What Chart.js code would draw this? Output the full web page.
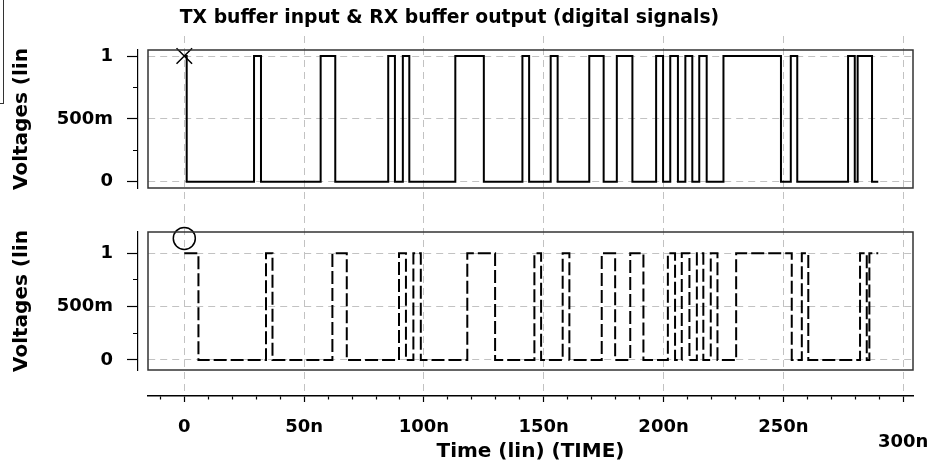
<!DOCTYPE html>
<html lang="en">
<head>
<meta charset="utf-8">
<title>TX buffer input &amp; RX buffer output</title>
<script src="https://cdn.jsdelivr.net/npm/chart.js"></script>
<style>
  body { margin: 0; background: #fff; }
  #wrap { position: relative; width: 927px; height: 471px; overflow: hidden; }
  #wrap canvas { position: absolute; left: 0; }
  #title { position: absolute; left: 0; top: 6px; width: 899px; text-align: center;
           font: bold 18.8px/22px "DejaVu Sans"; color: #000; }
  #legendBox { position: absolute; left: -10px; top: -1px; width: 12px; height: 103px; border: 1px solid #333; }
</style>
</head>
<body>
<div id="wrap">
  <canvas id="axisChart" width="927" height="471" style="top:0"></canvas>
  <canvas id="txChart" width="927" height="192" style="top:0"></canvas>
  <canvas id="rxChart" width="927" height="172" style="top:200px"></canvas>
  <div id="legendBox"></div>
  <div id="title">TX buffer input &amp; RX buffer output (digital signals)</div>
</div>
<script>
// transition times (ns) and the level after each transition
const txTime  = [0, 1.0, 29.1, 32.0, 56.9, 63.0, 85.1, 87.9, 91.2, 93.9, 113.1, 125.0, 141.1, 143.9,
                 152.9, 155.8, 169.0, 175.0, 180.5, 187.0, 196.9, 199.8, 202.8, 206.0, 209.1, 212.0,
                 214.9, 218.0, 225.0, 249.0, 253.1, 255.8, 277.0, 279.8, 281.0, 287.0, 289.6];
const txLevel = [1, 0, 1, 0, 1, 0, 1, 0, 1, 0, 1, 0, 1, 0,
                 1, 0, 1, 0, 1, 0, 1, 0, 1, 0, 1, 0,
                 1, 0, 1, 0, 1, 0, 1, 0, 1, 0, 0];

const rxTime  = [0, 5.9, 34.1, 36.8, 61.8, 67.8, 89.6, 92.5, 95.6, 98.7, 118.1, 129.7, 146.1, 148.9,
                 157.9, 160.7, 174.2, 179.8, 186.1, 191.6, 201.8, 204.8, 207.6, 210.8, 213.9, 216.6,
                 219.7, 222.5, 230.3, 253.5, 257.7, 260.4, 282.0, 284.8, 285.9, 289.6];
const rxLevel = [1, 0, 1, 0, 1, 0, 1, 0, 1, 0, 1, 0, 1, 0,
                 1, 0, 1, 0, 1, 0, 1, 0, 1, 0, 1, 0,
                 1, 0, 1, 0, 1, 0, 1, 0, 1, 1];

// cursor markers
const markerTime = [0];
const txMarkerLevel = [1];
const rxMarkerLevel = [1.14];

// axes
const xMin = -15.15, xMax = 304.1;
const xMajor = [0, 50, 100, 150, 200, 250, 300];
const xMajorLabels = ['0', '50n', '100n', '150n', '200n', '250n', '300n'];
const yMajor = [0, 0.5, 1];
const yMajorLabels = ['0', '500m', '1'];
const yMinor = [0.25, 0.75];

const gridGrey = '#c2c2c2';
const clear = 'rgba(0,0,0,0)';

Chart.defaults.font.family = '"DejaVu Sans"';
Chart.defaults.font.weight = 'bold';
Chart.defaults.color = '#000';
Chart.defaults.animation = false;

let xTicks = [];
for (let v = -10; v <= 300; v += 10) xTicks.push(v);
let yTicks = yMajor.concat(yMinor).sort((a, b) => a - b);

function isMajor(list, ctx) {
    return ctx.tick !== undefined && list.includes(ctx.tick.value);
}

const framePlugin = {
    id: 'frame',
    afterDatasetsDraw(chart) {
        const {ctx, chartArea: a} = chart;
        ctx.save();
        ctx.strokeStyle = '#333';
        ctx.lineWidth = 1.5;
        ctx.strokeRect(a.left, a.top, a.right - a.left, a.bottom - a.top);
        ctx.restore();
    }
};

function panelScales(min, max) {
    return {
        x: { type: 'linear', min: xMin, max: xMax, display: false },
        y: {
            position: 'left', weight: 10, min: min, max: max,
            afterBuildTicks: s => { s.ticks = yTicks.map(v => ({value: v})); },
            afterFit: s => { s.width = 138; s.paddingTop = 0; s.paddingBottom = 0; },
            ticks: {
                padding: 14,
                font: {size: 18, weight: 'bold'},
                callback: v => { const i = yMajor.indexOf(v); return i < 0 ? '' : yMajorLabels[i]; }
            },
            grid: {
                color: ctx => isMajor(yMajor, ctx) ? gridGrey : clear,
                tickColor: '#000',
                tickLength: 11,
                tickWidth: 1.2,
                tickBorderDash: ctx => isMajor(yMajor, ctx) ? [] : [0, 6, 5, 20]
            },
            border: { display: true, color: '#000', width: 1.2, dash: [7, 5] },
            title: {
                display: true, text: 'Voltages (lin',
                font: {size: 20, weight: 'bold'},
                padding: {top: 10, bottom: 0}
            }
        },
        gap: {
            axis: 'y', position: 'left', weight: 0,
            grid: {display: false}, ticks: {display: false}, border: {display: false},
            afterFit: s => { s.width = 10; s.paddingTop = 0; s.paddingBottom = 0; }
        }
    };
}

function panel(id, times, levels, dash, markerStyle, markerLevels, min, max, padTop, padBottom) {
    return new Chart(document.getElementById(id), {
        type: 'line',
        data: {
            datasets: [{
                data: times.map((t, i) => ({x: t, y: levels[i]})),
                borderColor: '#000',
                borderWidth: 2,
                borderDash: dash,
                stepped: true,
                pointRadius: 0,
                fill: false
            }, {
                data: markerTime.map((t, i) => ({x: t, y: markerLevels[i]})),
                showLine: false,
                pointStyle: markerStyle,
                pointRadius: 11,
                pointBorderWidth: 1.5,
                pointBorderColor: '#000',
                pointBackgroundColor: clear,
                clip: false
            }]
        },
        options: {
            responsive: false,
            layout: { autoPadding: false, padding: {left: 0, right: 14, top: padTop, bottom: padBottom} },
            plugins: { legend: {display: false}, tooltip: {enabled: false} },
            scales: panelScales(min, max)
        },
        plugins: [framePlugin]
    });
}

panel('txChart', txTime, txLevel, [], 'crossRot', txMarkerLevel, -0.05, 1.048, 50, 4);
panel('rxChart', rxTime, rxLevel, [13, 4], 'circle', rxMarkerLevel, -0.094, 1.2, 32, 2);

// shared time axis with full-height grid
new Chart(document.getElementById('axisChart'), {
    type: 'line',
    data: { datasets: [] },
    options: {
        responsive: false,
        layout: { autoPadding: false, padding: {left: 148, right: 14, top: 36, bottom: 0} },
        plugins: { legend: {display: false}, tooltip: {enabled: false} },
        scales: {
            x: {
                type: 'linear', position: 'bottom', min: xMin, max: xMax,
                afterBuildTicks: s => { s.ticks = xTicks.map(v => ({value: v})); },
                afterFit: s => { s.height = 75; s.paddingLeft = 0; s.paddingRight = 0; },
                ticks: {
                    autoSkip: false, maxRotation: 0, padding: 15,
                    font: ctx => ({size: 18, weight: 'bold',
                                   lineHeight: (ctx.tick && ctx.tick.value === 300) ? 0.93 : 1.2}),
                    callback: v => {
                        const i = xMajor.indexOf(v);
                        if (i < 0) return '';
                        return v === 300 ? ['', xMajorLabels[i]] : xMajorLabels[i];
                    }
                },
                grid: {
                    color: ctx => isMajor(xMajor, ctx) ? gridGrey : clear,
                    tickColor: '#000',
                    tickLength: 6,
                    tickWidth: 1.2,
                    tickBorderDash: ctx => isMajor(xMajor, ctx) ? [] : [3, 10]
                },
                border: { display: true, color: '#000', width: 1.5, dash: [7, 5] },
                title: {
                    display: true, text: 'Time (lin) (TIME)',
                    font: {size: 20, weight: 'bold'},
                    padding: {top: 0, bottom: 7}
                }
            },
            y: { display: false, min: 0, max: 1 }
        }
    }
});
</script>
</body>
</html>
